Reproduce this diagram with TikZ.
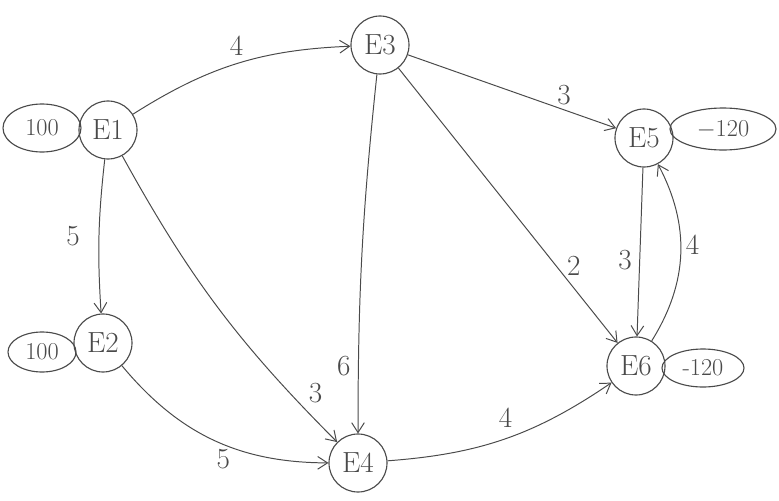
\documentclass[tikz,border=0pt]{standalone}
\usepackage{tikz}
\usetikzlibrary{arrows.meta, shapes.geometric}
\definecolor{Pencil}{HTML}{4A4A4A}

\begin{document}
\begin{tikzpicture}[
  x=0.025cm, y=-0.025cm,
  event/.style={draw=Pencil, circle, line width=0.8pt, minimum size=1.45cm, inner sep=0pt, font=\huge, text=Pencil},
  supply/.style={draw=Pencil, ellipse, line width=0.8pt, inner sep=0pt, font=\LARGE, text=Pencil},
  arrow/.style={-{Straight Barb[length=7pt, width=9pt]}, line width=0.7pt, draw=Pencil},
  cost/.style={font=\huge, text=Pencil}
]
  \useasboundingbox (0,0) rectangle (779,501);

  \node[event] (E1) at (108,130) {E1};
  \node[event] (E2) at (103,343) {E2};
  \node[event] (E3) at (380,45) {E3};
  \node[event] (E4) at (358,463) {E4};
  \node[event] (E5) at (644,138) {E5};
  \node[event] (E6) at (636,366) {E6};

  \node[supply, minimum width=1.95cm, minimum height=1.2cm] (s1) at (42,128) {100};
  \node[supply, minimum width=1.7cm, minimum height=1.0cm] (s2) at (42,352) {100};
  \node[supply, minimum width=2.65cm, minimum height=1.05cm] (d5) at (723,129) {$-$120};
  \node[supply, minimum width=2.05cm, minimum height=0.95cm] (d6) at (703,368) {-120};

  \draw[arrow] (E1) to[bend left=15] node[cost, above=2pt] {4} (E3);
  \draw[arrow] (E1) to[bend right=5] node[cost, left=10pt] {5} (E2);
  \draw[arrow] (E1) to[bend right=8] node[cost, pos=0.88, above right=0pt] {3} (E4);
  \draw[arrow] (E2) to[bend right=25] node[cost, pos=0.55, below=0pt] {5} (E4);
  \draw[arrow] (E3) to[bend right=3] node[cost, pos=0.83, left=2pt] {6} (E4);
  \draw[arrow] (E3) -- node[cost, pos=0.75, above=0pt] {3} (E5);
  \draw[arrow] (E3) -- node[cost, pos=0.72, right=4pt] {2} (E6);
  \draw[arrow] (E4) to[bend right=15] node[cost, above=4pt] {4} (E6);
  \draw[arrow] (E5) -- node[cost, pos=0.55, left=2pt] {3} (E6);
  \draw[arrow] (E6) to[bend right=30] node[cost, pos=0.55, right=0pt] {4} (E5);
\end{tikzpicture}
\end{document}
